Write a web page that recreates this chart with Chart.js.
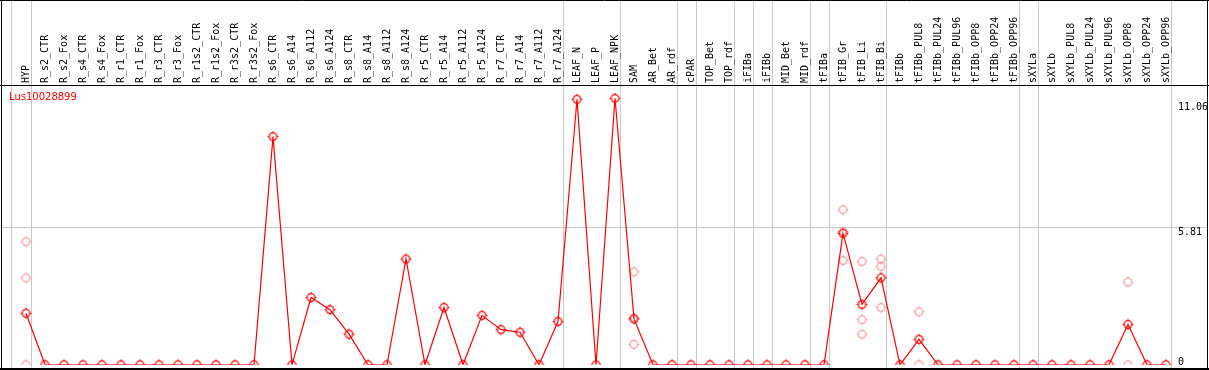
<!DOCTYPE html>
<html>
<head>
<meta charset="utf-8">
<script src="https://cdn.jsdelivr.net/npm/chart.js@4"></script>
<style>
html,body{margin:0;padding:0;background:#fff;}
#wrap{width:1209px;height:370px;position:relative;}
</style>
</head>
<body>
<div id="wrap"><canvas id="chart" width="1209" height="370"></canvas></div>
<script>
// ================= DATA =================
let labels = ["HYP","R_s2_CTR","R_s2_Fox","R_s4_CTR","R_s4_Fox","R_r1_CTR","R_r1_Fox","R_r3_CTR","R_r3_Fox",
"R_r1s2_CTR","R_r1s2_Fox","R_r3s2_CTR","R_r3s2_Fox","R_s6_CTR","R_s6_A14","R_s6_A112","R_s6_A124",
"R_s8_CTR","R_s8_A14","R_s8_A112","R_s8_A124","R_r5_CTR","R_r5_A14","R_r5_A112","R_r5_A124",
"R_r7_CTR","R_r7_A14","R_r7_A112","R_r7_A124","LEAF_N","LEAF_P","LEAF_NPK","SAM","AR_Bet","AR_rdf",
"cPAR","TOP_Bet","TOP_rdf","iFIBa","iFIBb","MID_Bet","MID_rdf","tFIBa","tFIB_Gr","tFIB_Li","tFIB_Bi",
"tFIBb","tFIBb_PUL8","tFIBb_PUL24","tFIBb_PUL96","tFIBb_OPP8","tFIBb_OPP24","tFIBb_OPP96",
"sXYLa","sXYLb","sXYLb_PUL8","sXYLb_PUL24","sXYLb_PUL96","sXYLb_OPP8","sXYLb_OPP24","sXYLb_OPP96"];

// mean values
let meanValues = [2.17,0,0,0,0,0,0,0,0,0,0,0,0,9.60,0,2.83,2.32,1.29,0,0,4.45,0,2.41,0,2.08,1.48,1.37,0,1.82,
11.17,0,11.21,1.93,0,0,0,0,0,0,0,0,0,0,5.53,2.54,3.66,0,1.07,0,0,0,0,0,0,0,0,0,0,1.70,0,0];

// replicate points (category, value)
let repLabels = ["HYP","HYP","HYP","SAM","SAM","SAM","tFIB_Gr","tFIB_Gr","tFIB_Gr",
"tFIB_Li","tFIB_Li","tFIB_Li","tFIB_Bi","tFIB_Bi","tFIB_Bi","tFIBb_PUL8","tFIBb_PUL8","sXYLb_OPP8","sXYLb_OPP8"];
let repValues = [5.18,3.65,0,3.91,1.97,0.86,6.52,5.60,4.39,4.35,1.90,1.29,4.45,4.14,2.41,2.23,0,3.48,0];

// last sample of each group (separator drawn after it)
let groupEnds = ["HYP","R_r7_A124","LEAF_NPK","AR_rdf","cPAR","TOP_rdf","iFIBa","iFIBb","MID_rdf",
"tFIBa","tFIB_Bi","tFIBb_OPP96","sXYLa","sXYLb_OPP96"];

let geneName = "Lus10028899";
let tickValues = [0, 5.81, 11.06];
let tickLabels = ["0", "5.81", "11.06"];

// ================= MARKER =================
function makeMarker(color){
let c = document.createElement("canvas");
c.width = 13; c.height = 13;
let g = c.getContext("2d");
g.strokeStyle = color;
g.lineWidth = 1.3;
g.beginPath();
g.arc(6.5, 6.5, 3.8, 0, Math.PI*2);
g.stroke();
// small notches
g.fillStyle = color;
g.fillRect(6, 1, 1, 2);
g.fillRect(6, 10, 1, 2);
g.fillRect(1, 6, 2, 1);
g.fillRect(10, 6, 2, 1);
return c;
}

let mainMarker = makeMarker("#ff0000");
let repMarker = makeMarker("#f0a0a0");

// ================= FRAME PLUGIN =================
let framePlugin = {
id: "frame",
beforeDraw(chart){
let ctx = chart.ctx;
let xs = chart.scales.x;
let ys = chart.scales.y;
let step = xs.getPixelForValue(1) - xs.getPixelForValue(0);
ctx.save();
ctx.fillStyle = "#fff";
ctx.fillRect(0, 0, chart.width, chart.height);

// grey separators
ctx.strokeStyle = "#c8c8c8";
ctx.lineWidth = 1;
ctx.beginPath();
let x0 = Math.round(xs.getPixelForValue(0) - step + 4.5) - 0.5;
ctx.moveTo(x0, 0); ctx.lineTo(x0, 368);
groupEnds.forEach(name => {
let x = Math.round(xs.getPixelForValue(labels.indexOf(name)) + 4.5) + 0.5;
ctx.moveTo(x, 0); ctx.lineTo(x, 368);
});
// horizontal grid at middle tick
let gy = Math.round(ys.getPixelForValue(tickValues[1])) + 0.5;
ctx.moveTo(1, gy); ctx.lineTo(1207, gy);
ctx.stroke();
ctx.restore();
},
afterDraw(chart){
let ctx = chart.ctx;
let xs = chart.scales.x;
ctx.save();

// black frame
ctx.strokeStyle = "#000";
ctx.lineWidth = 1;
ctx.beginPath();
ctx.moveTo(0, 0.5); ctx.lineTo(1209, 0.5);
ctx.moveTo(1.5, 0); ctx.lineTo(1.5, 370);
ctx.moveTo(1207.5, 0); ctx.lineTo(1207.5, 370);
ctx.moveTo(0, 85.5); ctx.lineTo(1209, 85.5);
ctx.stroke();
ctx.lineWidth = 2;
ctx.beginPath();
ctx.moveTo(0, 369); ctx.lineTo(1209, 369);
ctx.stroke();

// rotated sample labels
ctx.fillStyle = "#000";
ctx.font = "10px 'DejaVu Sans Mono'";
ctx.textAlign = "left";
ctx.textBaseline = "middle";
labels.forEach((lab, i) => {
let x = xs.getPixelForValue(i);
ctx.save();
ctx.translate(x, 83);
ctx.rotate(-Math.PI/2);
ctx.fillText(lab, 0, 0);
ctx.restore();
});

// gene name
ctx.fillStyle = "#ff0000";
ctx.font = "10px 'DejaVu Sans'";
ctx.textBaseline = "middle";
ctx.fillText(geneName, 9, 97);

// y tick labels on the right
ctx.fillStyle = "#000";
ctx.font = "10px 'DejaVu Sans Mono'";
let tickY = [362, 232, 107];
tickLabels.forEach((t, i) => {
ctx.fillText(t, 1178, tickY[i]);
});
ctx.restore();
}
};

// ================= CHART =================
let chart = new Chart(document.getElementById("chart").getContext("2d"), {
type: "line",
data: {
labels: labels,
datasets: [
{
label: "mean",
data: meanValues,
borderColor: "#ff0000",
borderWidth: 1.2,
pointStyle: mainMarker,
pointRadius: 4,
tension: 0,
fill: false,
order: 0,
clip: {left: 8, top: 8, right: 8, bottom: 0}
},
{
label: "replicates",
data: repLabels.map((c, i) => ({x: c, y: repValues[i]})),
showLine: false,
borderColor: "#f0a0a0",
pointStyle: repMarker,
pointRadius: 4,
order: 1,
clip: {left: 8, top: 8, right: 8, bottom: 0}
}
]
},
options: {
responsive: false,
animation: false,
layout: {padding: {left: 16.5, right: 33.5, top: 85, bottom: 2}},
plugins: {legend: {display: false}, tooltip: {enabled: false}},
scales: {
x: {type: "category", offset: true, display: false},
y: {min: 0, max: 11.77, display: false}
}
},
plugins: [framePlugin]
});
</script>
</body>
</html>
